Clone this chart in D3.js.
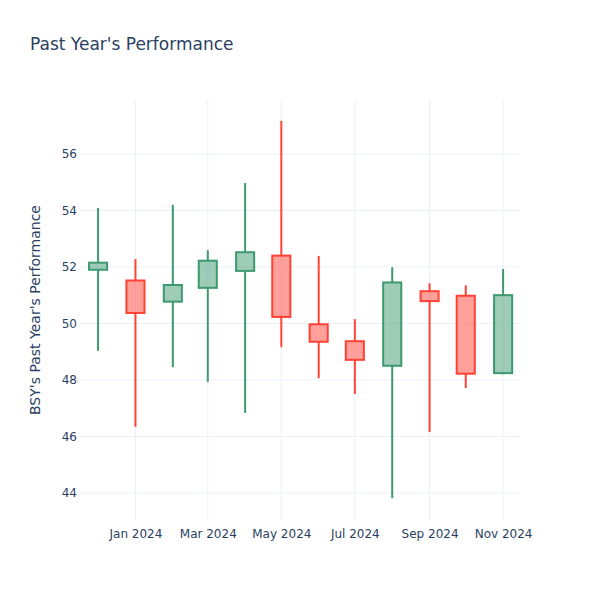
<!DOCTYPE html>
<html><head><meta charset="utf-8">
<script src="https://cdn.jsdelivr.net/npm/d3@7"></script>
<style>body{margin:0;background:#fff}svg{display:block}text{font-family:"DejaVu Sans",Verdana,Arial,sans-serif}</style>
</head><body><div id="chart"></div>
<script>
const dates = ["2023-12-01","2024-01-01","2024-02-01","2024-03-01","2024-04-01","2024-05-01","2024-06-01","2024-07-01","2024-08-01","2024-09-01","2024-10-01","2024-11-01"];
const open  = [51.90, 51.52, 50.77, 51.26, 51.86, 52.40, 49.97, 49.37, 48.50, 51.14, 50.98, 48.24];
const high  = [54.09, 52.28, 54.20, 52.59, 54.97, 57.17, 52.39, 50.15, 51.99, 51.42, 51.35, 51.93];
const low   = [49.03, 46.34, 48.45, 47.93, 46.83, 49.16, 48.06, 47.50, 43.81, 46.16, 47.71, 48.20];
const close = [52.15, 50.37, 51.36, 52.22, 52.52, 50.23, 49.35, 48.71, 51.45, 50.79, 48.22, 51.00];
const yTicks = [44, 46, 48, 50, 52, 54, 56];
const xTickDates = ["2024-01-01","2024-03-01","2024-05-01","2024-07-01","2024-09-01","2024-11-01"];
const titleText = "Past Year's Performance";
const yTitle = "BSY's Past Year's Performance";

const W = 600, H = 600, m = {l:80, r:80, t:100, b:80};
const parse = d3.utcParse("%Y-%m-%d");
const data = dates.map((d,i)=>({date:parse(d), o:open[i], h:high[i], l:low[i], c:close[i]}));

const x = d3.scaleUtc()
  .domain([d3.utcDay.offset(parse(dates[0]), -14.1), d3.utcDay.offset(parse(dates[dates.length-1]), 14.9)])
  .range([m.l, W - m.r]);
const y = d3.scaleLinear().domain([43.04, 57.91]).range([H - m.b, m.t]);

const svg = d3.select("#chart").append("svg").attr("width", W).attr("height", H);
const txt = "#2a3f5f", grid = "#ebf0f8";

// grid
svg.append("g").selectAll("line").data(yTicks).join("line")
  .attr("x1", m.l).attr("x2", W - m.r)
  .attr("y1", d=>y(d)).attr("y2", d=>y(d))
  .attr("stroke", grid).attr("stroke-width", 1);
svg.append("g").selectAll("line").data(xTickDates.map(parse)).join("line")
  .attr("x1", d=>x(d)).attr("x2", d=>x(d))
  .attr("y1", m.t).attr("y2", H - m.b)
  .attr("stroke", grid).attr("stroke-width", 1);

// axes labels
const yAxis = d3.axisLeft(y).tickValues(yTicks).tickSize(0).tickPadding(3).tickFormat(d3.format("d"));
const gy = svg.append("g").attr("transform", `translate(${m.l},0)`).call(yAxis);
gy.select(".domain").remove();
gy.selectAll("text").attr("fill", txt).attr("font-size", 12);

const xAxis = d3.axisBottom(x).tickValues(xTickDates.map(parse)).tickSize(0).tickPadding(9).tickFormat(d3.utcFormat("%b %Y"));
const gx = svg.append("g").attr("transform", `translate(0,${H - m.b})`).call(xAxis);
gx.select(".domain").remove();
gx.selectAll("text").attr("fill", txt).attr("font-size", 12);

// candles
const inc = "#3D9970", dec = "#FF4136";
const hw = d => x(d3.utcHour.offset(d, 7.5*24)) - x(d);
const g = svg.append("g");
data.forEach(d => {
  const up = d.c >= d.o;
  const col = up ? inc : dec;
  const cx = x(d.date), w = hw(d.date);
  g.append("line").attr("x1", cx).attr("x2", cx).attr("y1", y(d.h)).attr("y2", y(Math.max(d.o,d.c)))
    .attr("stroke", col).attr("stroke-width", 2);
  g.append("line").attr("x1", cx).attr("x2", cx).attr("y1", y(Math.min(d.o,d.c))).attr("y2", y(d.l))
    .attr("stroke", col).attr("stroke-width", 2);
  g.append("rect").attr("x", cx - w).attr("width", 2*w)
    .attr("y", y(Math.max(d.o,d.c))).attr("height", Math.abs(y(d.o)-y(d.c)))
    .attr("fill", col).attr("fill-opacity", 0.5).attr("stroke", col).attr("stroke-width", 2);
});

// titles
svg.append("text").attr("x", 30).attr("y", 50).attr("fill", txt).attr("font-size", 17).text(titleText);
svg.append("text").attr("transform", `translate(40,${(m.t + H - m.b)/2}) rotate(-90)`)
  .attr("text-anchor", "middle").attr("fill", txt).attr("font-size", 14).text(yTitle);
</script></body></html>
